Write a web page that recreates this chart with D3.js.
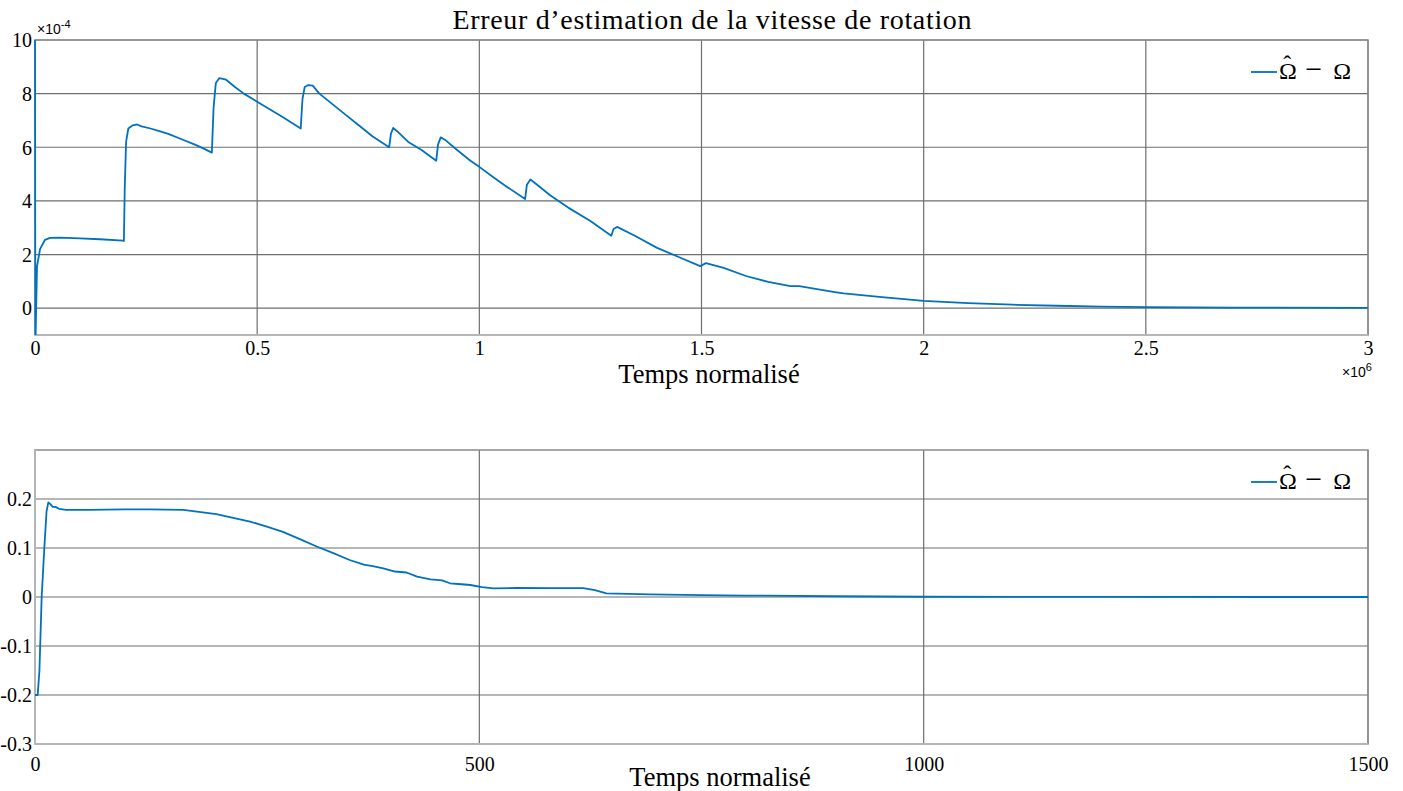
<!DOCTYPE html>
<html>
<head>
<meta charset="utf-8">
<script src="https://cdn.jsdelivr.net/npm/d3@7"></script>
<style>
  html, body { margin: 0; padding: 0; background: #fff; }
  svg { display: block; }
  text { font-family: "Liberation Serif", "DejaVu Serif", serif; fill: #000; }
  .sans { font-family: "Liberation Sans", Arial, sans-serif; }
</style>
</head>
<body>
<svg id="chart" width="1403" height="791"></svg>
<script>
// ---------------- DATA ----------------
// Top panel: time in units of 1e6, error in units of 1e-4
const topTime = [0, 0.0008, 0.0045, 0.0113, 0.0225, 0.0338, 0.0563, 0.101, 0.146, 0.198,
  0.2, 0.202, 0.205, 0.21, 0.22, 0.23, 0.24, 0.26, 0.28, 0.30, 0.33, 0.36, 0.38, 0.398,
  0.402, 0.407, 0.415, 0.43, 0.45, 0.47, 0.50, 0.53, 0.56, 0.598,
  0.602, 0.607, 0.615, 0.625, 0.64, 0.67, 0.70, 0.73, 0.76, 0.797,
  0.801, 0.806, 0.815, 0.84, 0.87, 0.903,
  0.907, 0.913, 0.925, 0.95, 0.98, 1.0, 1.03, 1.06, 1.103,
  1.107, 1.115, 1.13, 1.16, 1.2, 1.25, 1.297,
  1.302, 1.31, 1.35, 1.4, 1.45, 1.497, 1.51, 1.55, 1.6, 1.65, 1.7, 1.72,
  1.8, 1.82, 1.9, 2.0, 2.1, 2.2, 2.3, 2.4, 2.5, 2.7, 3.0];
const topValue = [10.5, -1.5, 1.55, 2.2, 2.55, 2.62, 2.63, 2.6, 2.57, 2.52,
  2.5, 4.5, 6.2, 6.7, 6.82, 6.85, 6.78, 6.7, 6.6, 6.5, 6.3, 6.1, 5.95, 5.8,
  7.5, 8.4, 8.58, 8.52, 8.25, 8.0, 7.7, 7.4, 7.1, 6.7,
  7.8, 8.25, 8.32, 8.3, 8.0, 7.6, 7.2, 6.8, 6.4, 6.0,
  6.5, 6.72, 6.6, 6.2, 5.9, 5.5,
  6.1, 6.37, 6.25, 5.9, 5.5, 5.27, 4.9, 4.55, 4.07,
  4.6, 4.8, 4.6, 4.2, 3.75, 3.25, 2.7,
  2.95, 3.03, 2.7, 2.25, 1.9, 1.57, 1.68, 1.5, 1.2, 0.98, 0.82, 0.82,
  0.6, 0.55, 0.42, 0.27, 0.19, 0.13, 0.09, 0.06, 0.04, 0.02, 0.01];
const topXTicks = [0, 0.5, 1, 1.5, 2, 2.5, 3];
const topXTickLabels = ["0", "0.5", "1", "1.5", "2", "2.5", "3"];
const topYTicks = [0, 2, 4, 6, 8, 10];
const topYTickLabels = ["0", "2", "4", "6", "8", "10"];

// Bottom panel: normalised time, error
const bottomTime = [0, 3, 5, 7.5, 10.5, 13, 15, 17, 20, 23, 27, 35, 60, 100, 129, 167, 204, 242,
  260, 279, 298, 317, 335, 354, 370, 380, 392, 405, 418, 430, 445, 458, 467, 480, 490,
  503, 516, 542, 580, 617, 630, 643, 692, 750, 800, 900, 1000, 1200, 1500];
const bottomValue = [-0.2, -0.2, -0.15, 0, 0.1, 0.175, 0.193, 0.19, 0.184, 0.184, 0.18, 0.178, 0.178, 0.179, 0.179, 0.178, 0.169, 0.154,
  0.144, 0.133, 0.118, 0.103, 0.09, 0.0755, 0.066, 0.063, 0.0585, 0.052, 0.05, 0.0415, 0.036, 0.034, 0.028, 0.026, 0.0245,
  0.02, 0.0177, 0.0184, 0.018, 0.018, 0.014, 0.0075, 0.0055, 0.004, 0.003, 0.0015, 0.0005, 0.0001, 0];
const bottomXTicks = [0, 500, 1000, 1500];
const bottomXTickLabels = ["0", "500", "1000", "1500"];
const bottomYTicks = [-0.3, -0.2, -0.1, 0, 0.1, 0.2];
const bottomYTickLabels = ["-0.3", "-0.2", "-0.1", "0", "0.1", "0.2"];

const titleText = "Erreur d\u2019estimation de la vitesse de rotation";
const xLabelText = "Temps normalisé";

// ---------------- DRAW ----------------
const svg = d3.select("#chart");
svg.append("rect").attr("width", 1403).attr("height", 791).attr("fill", "#fff");

function panel(cfg) {
  const x = d3.scaleLinear().domain(cfg.xDomain).range([35, 1368]);
  const y = d3.scaleLinear().domain(cfg.yDomain).range([cfg.bottom, cfg.top]);
  const g = svg.append("g");
  const clipId = "clip" + cfg.id;
  svg.append("clipPath").attr("id", clipId).append("rect")
    .attr("x", 33).attr("y", cfg.top).attr("width", 1337).attr("height", cfg.bottom - cfg.top);

  // grid
  g.append("g").selectAll("line").data(cfg.yTicks).join("line")
    .attr("x1", 35).attr("x2", 1368).attr("y1", d => y(d)).attr("y2", d => y(d))
    .attr("stroke", "#6e6e6e").attr("stroke-width", 1.2);
  g.append("g").selectAll("line").data(cfg.xTicks).join("line")
    .attr("y1", cfg.top).attr("y2", cfg.bottom).attr("x1", d => x(d)).attr("x2", d => x(d))
    .attr("stroke", "#6e6e6e").attr("stroke-width", 1.2);

  // box
  g.append("rect").attr("x", 35).attr("y", cfg.top).attr("width", 1333).attr("height", cfg.bottom - cfg.top)
    .attr("fill", "none").attr("stroke", "#8c8c8c").attr("stroke-width", 1.5);
  g.append("line").attr("x1", 35).attr("x2", 35).attr("y1", cfg.top).attr("y2", cfg.bottom)
    .attr("stroke", "#b5b5b5").attr("stroke-width", 2);
  g.append("line").attr("x1", 35).attr("x2", 1368).attr("y1", cfg.bottom).attr("y2", cfg.bottom)
    .attr("stroke", "#b5b5b5").attr("stroke-width", 2);

  // axes labels via d3 axes (no tick lines)
  const xa = d3.axisBottom(x).tickValues(cfg.xTicks).tickSize(0)
    .tickFormat((d, i) => cfg.xTickLabels[i]);
  const xg = g.append("g").attr("transform", `translate(0,${cfg.bottom})`).call(xa);
  xg.select(".domain").remove();
  xg.selectAll("text").attr("font-size", 20).attr("font-family", "Liberation Serif")
    .attr("fill", "#000").attr("y", cfg.xLabelDy).attr("dy", 0);

  const ya = d3.axisLeft(y).tickValues(cfg.yTicks).tickSize(0)
    .tickFormat((d, i) => cfg.yTickLabels[i]);
  const yg = g.append("g").attr("transform", `translate(32,0)`).call(ya);
  yg.select(".domain").remove();
  yg.selectAll("text").attr("font-size", 20).attr("font-family", "Liberation Serif")
    .attr("fill", "#000").attr("x", 0).attr("dy", "0.34em");

  // line
  const line = d3.line().x(d => x(d[0])).y(d => y(d[1]));
  const pts = cfg.time.map((t, i) => [t, cfg.value[i]]);
  svg.append("path").datum(pts).attr("d", line).attr("clip-path", `url(#${clipId})`)
    .attr("fill", "none").attr("stroke", "#0072BD").attr("stroke-width", 1.8)
    .attr("stroke-linejoin", "round");

  // legend
  const ly = cfg.top + 32;
  svg.append("line").attr("x1", 1251).attr("x2", 1277).attr("y1", ly).attr("y2", ly)
    .attr("stroke", "#0072BD").attr("stroke-width", 1.8);
  const lt = svg.append("text").attr("x", 1279).attr("y", ly + 7).attr("font-size", 24);
  lt.append("tspan").text("\u03A9");
  lt.append("tspan").attr("dx", -13.5).attr("dy", -7).text("\u02C6");
  lt.append("tspan").attr("dx", 14).attr("dy", 7).attr("font-size", 30).text("\u2212");
  lt.append("tspan").attr("dx", 11).text("\u03A9");

  // x label
  svg.append("text").attr("x", cfg.xLabelX).attr("y", cfg.xLabelY).attr("text-anchor", "middle")
    .attr("font-size", 26.5).text(xLabelText);
}

panel({
  id: "top", top: 40, bottom: 335, xDomain: [0, 3], yDomain: [-1, 10],
  xTicks: topXTicks, xTickLabels: topXTickLabels, yTicks: topYTicks, yTickLabels: topYTickLabels,
  time: topTime, value: topValue, xLabelDy: 20, xLabelX: 709, xLabelY: 383
});
panel({
  id: "bottom", top: 450, bottom: 744, xDomain: [0, 1500], yDomain: [-0.3, 0.3],
  xTicks: bottomXTicks, xTickLabels: bottomXTickLabels, yTicks: bottomYTicks, yTickLabels: bottomYTickLabels,
  time: bottomTime, value: bottomValue, xLabelDy: 27, xLabelX: 720, xLabelY: 786
});

// exponent labels
const e1 = svg.append("text").attr("class", "sans").attr("x", 37).attr("y", 34).attr("font-size", 14).attr("fill", "#333");
e1.append("tspan").text("\u00D710");
e1.append("tspan").attr("dy", -6).attr("font-size", 11).text("-4");
const e2 = svg.append("text").attr("class", "sans").attr("x", 1342).attr("y", 377).attr("font-size", 14).attr("fill", "#333");
e2.append("tspan").text("\u00D710");
e2.append("tspan").attr("dy", -6).attr("font-size", 11).text("6");

// title
svg.append("text").attr("x", 712).attr("y", 29).attr("text-anchor", "middle")
  .attr("font-size", 28).attr("textLength", 519).attr("lengthAdjust", "spacing").text(titleText);
</script>
</body>
</html>
